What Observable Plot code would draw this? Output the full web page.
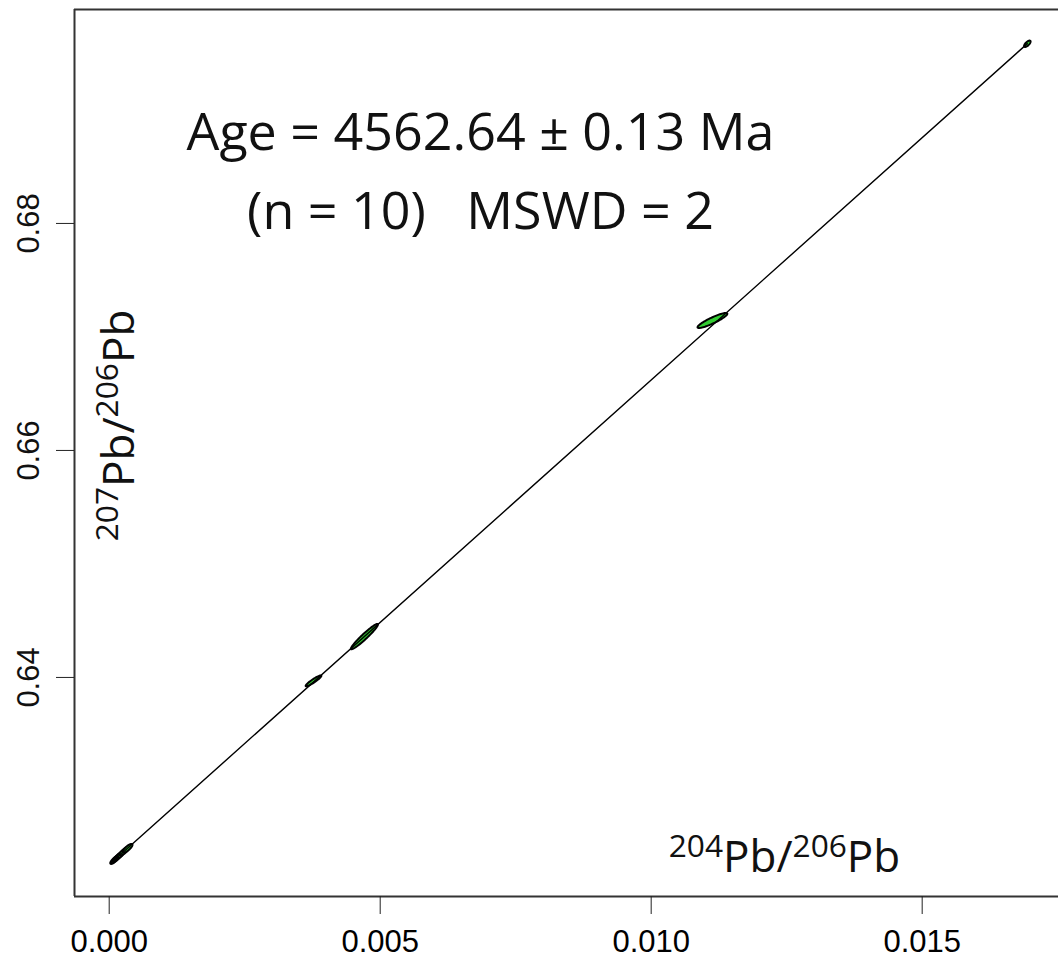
<!DOCTYPE html>
<html><head><meta charset="utf-8">
<script src="https://cdn.jsdelivr.net/npm/d3@7"></script>
<script src="https://cdn.jsdelivr.net/npm/@observablehq/plot@0.6"></script>
<style>
body{margin:0;background:#fff;}
</style></head><body><div id="chart"></div>
<script>
// ---- data: 204Pb/206Pb vs 207Pb/206Pb with error ellipses ----
const ratio204_206 = [0.00010, 0.00014, 0.00018, 0.00022, 0.00028, 0.00034, 0.00377, 0.00471, 0.01113, 0.01694];
const err204_206   = [0.00008, 0.00008, 0.00008, 0.00008, 0.00009, 0.00009, 0.000145, 0.00025, 0.000275, 0.00006];
const ratio207_206 = [0.62393, 0.62410, 0.62427, 0.62444, 0.62470, 0.62495, 0.63970, 0.64360, 0.67145, 0.69583];
const err207_206   = [0.00036, 0.00036, 0.00036, 0.00036, 0.00038, 0.00038, 0.00048, 0.00112, 0.00066, 0.00028];
const errCorr      = [0.80, 0.80, 0.80, 0.80, 0.80, 0.80, 0.93, 0.96, 0.90, 0.70];
const isochronIntercept = 0.62350;
const isochronSlope = 4.2706;
const isochronXRange = [0.00004, 0.01694];
const xTicks = [0.000, 0.005, 0.010, 0.015];
const yTicks = [0.64, 0.66, 0.68];
const xDomain = [-0.00064, 0.017515];
const yDomain = [0.62070, 0.69885];
const ageText = "Age = 4562.64 ± 0.13 Ma";
const statsText = "(n = 10)   MSWD = 2";
const xLabel = "204Pb/206Pb";
const yLabel = "207Pb/206Pb";

// ---- build ellipse outlines ----
const ellipsePts = [];
ratio204_206.forEach((x0, i) => {
  const phi = Math.acos(errCorr[i]);
  for (let k = 0; k < 72; k++) {
    const t = 2 * Math.PI * k / 72;
    ellipsePts.push({id: i, x: x0 + err204_206[i] * Math.cos(t), y: ratio207_206[i] + err207_206[i] * Math.cos(t + phi)});
  }
});
const linePts = isochronXRange.map(x => ({x, y: isochronIntercept + isochronSlope * x}));

const labelFont = "'Open Sans', 'Noto Sans', sans-serif";
const tickFont = "'Liberation Sans Narrow', 'Liberation Sans', Arial, sans-serif";
const labelSize = 44;

const chart = Plot.plot({
  width: 1058, height: 970,
  marginLeft: 74, marginRight: 0, marginTop: 9, marginBottom: 74,
  x: {domain: xDomain},
  y: {domain: yDomain},
  style: {background: "#fff"},
  marks: [
    Plot.ruleY([yDomain[0], yDomain[1]], {stroke: "#333", strokeWidth: 2}),
    Plot.ruleX([xDomain[0]], {stroke: "#333", strokeWidth: 2}),
    Plot.axisX({ticks: xTicks, tickSize: 18, tickPadding: 15, tickFormat: d3.format(".3f"), fontSize: 31, fontFamily: tickFont, label: null, stroke: "#222"}),
    Plot.axisY({ticks: yTicks, tickSize: 18, text: null, label: null, stroke: "#222"}),
    Plot.text(yTicks, {x: xDomain[0], y: d => d, text: d => d3.format(".2f")(d), rotate: -90, dx: -45, fontSize: 31, fontFamily: tickFont, fill: "#111"}),
    Plot.line(ellipsePts, {x: "x", y: "y", z: "id", fill: "#33cc33", stroke: "#000", strokeWidth: 2, curve: "linear-closed"}),
    Plot.line(linePts, {x: "x", y: "y", stroke: "#000", strokeWidth: 1.4}),
    Plot.text([ageText], {x: 0.00685, y: 0.68793, text: d => d, fontSize: 52, fontWeight: 500, fontFamily: labelFont, letterSpacing: -1.5, fill: "#111"}),
    Plot.text([statsText], {x: 0.00685, y: 0.68097, text: d => d, fontSize: 52, fontWeight: 500, fontFamily: labelFont, letterSpacing: -1.5, fill: "#111"}),
    Plot.text([xLabel], {x: 0.012459, y: 0.62282, text: d => d, lineAnchor: "bottom", fontSize: labelSize, fontFamily: labelFont, letterSpacing: -1, fill: "#111", className: "suplabel"}),
    Plot.text([yLabel], {x: xDomain[0], y: 0.66220, dx: 59, rotate: -90, text: d => d, lineAnchor: "bottom", fontSize: labelSize, fontFamily: labelFont, letterSpacing: -1, fill: "#111", className: "suplabel"})
  ]
});
document.getElementById("chart").appendChild(chart);

// superscript isotope numbers
d3.select(chart).selectAll(".suplabel text").each(function() {
  const el = d3.select(this);
  const s = el.text();
  const parts = s.match(/\d+|[^\d]+/g);
  el.text(null);
  const shift = labelSize * 0.36;
  let raised = false;
  parts.forEach(p => {
    const isNum = /^\d+$/.test(p);
    const ts = el.append("tspan").text(p);
    if (isNum) { ts.attr("font-size", labelSize * 0.72); if (!raised) { ts.attr("dy", -shift); raised = true; } }
    else { ts.attr("font-size", labelSize); if (raised) { ts.attr("dy", shift); raised = false; } }
  });
});
</script></body></html>
